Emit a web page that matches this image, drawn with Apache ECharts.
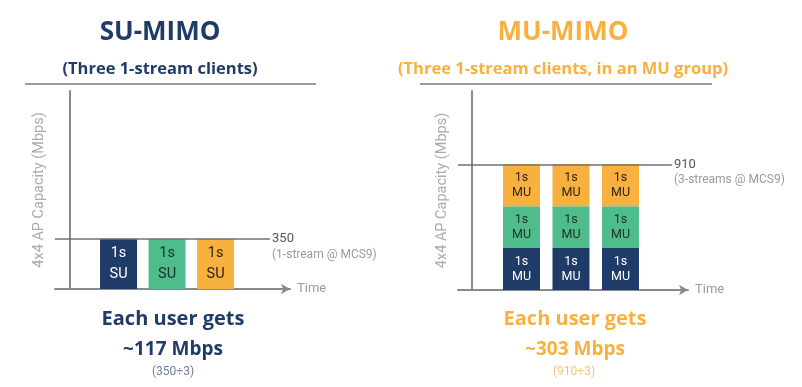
<!DOCTYPE html>
<html><head><meta charset="utf-8">
<script src="https://cdn.jsdelivr.net/npm/echarts@6/dist/echarts.min.js"></script>
<style>html,body{margin:0;padding:0;background:#fff}#c{width:802px;height:387px}</style>
</head><body><div id="c"></div>
<script>
// ---- data ----
const timeSlots = [1, 2, 3];
const suLabels = ['1s\nSU', '1s\nSU', '1s\nSU'];
const suValues = [350, 350, 350];
const suCapacity = 350;
const muStream1 = [303.3, 303.3, 303.3];
const muStream2 = [303.3, 303.3, 303.3];
const muStream3 = [303.3, 303.3, 303.3];
const muCapacity = 910;
const users = 3;
const suTitle = 'SU-MIMO', suSub = '(Three 1-stream clients)', suNote = '(1-stream @ MCS9)';
const muTitle = 'MU-MIMO', muSub = '(Three 1-stream clients, in an MU group)', muNote = '(3-streams @ MCS9)';
const yName = '4x4 AP Capacity (Mbps)';
const xName = 'Time';

const NAVY = '#1f3b68', GREEN = '#4fbc8c', ORANGE = '#f8b13f';
const suColors = [NAVY, GREEN, ORANGE];
const suTextColors = ['#ffffff', '#1e2e2a', '#2a2518'];
const FONT = 'Roboto';
const BOLD = 'Open Sans';

const chart = echarts.init(document.getElementById('c'), null, {renderer: 'canvas'});

function yAxis(gi, max) {
  return {
    type: 'value', gridIndex: gi, min: 0, max: max,
    axisLine: {show: true, lineStyle: {color: '#8a8a8a', width: 2}},
    axisTick: {show: false}, axisLabel: {show: false}, splitLine: {show: false},
    name: yName, nameLocation: 'middle', nameGap: 8, nameRotate: 90,
    nameTextStyle: {color: '#ababab', fontSize: 14.5, fontFamily: FONT}
  };
}
function xAxis(gi, min, max) {
  return {
    type: 'value', gridIndex: gi, min: min, max: max,
    axisLine: {show: true, symbol: ['none', 'arrow'], symbolSize: [8, 9], lineStyle: {color: '#8a8a8a', width: 2}},
    axisTick: {show: false}, axisLabel: {show: false}, splitLine: {show: false},
    name: xName, nameLocation: 'end', nameGap: 7,
    nameTextStyle: {color: '#9a9a9a', fontSize: 13, fontFamily: FONT, verticalAlign: 'middle', padding: [4, 0, 0, 0]}
  };
}
function capLine(xMin, xEnd, cap, note) {
  return {
    silent: true, symbol: ['none', 'none'],
    lineStyle: {color: '#707070', width: 1.5, type: 'solid'},
    label: {
      show: true, position: 'end', distance: 2,
      padding: [16, 0, 0, 0],
      formatter: () => '{a|' + cap + '}\n{b|' + note + '}',
      rich: {
        a: {color: '#555', fontSize: 13, fontFamily: FONT, lineHeight: 16},
        b: {color: '#9a9a9a', fontSize: 12, fontFamily: FONT, lineHeight: 16}
      }
    },
    data: [[{coord: [xMin, cap]}, {coord: [xEnd, cap]}]]
  };
}

const L_MIN = -0.31, L_MAX = 4.535, R_MIN = -0.283, R_MAX = 4.364;

const suData = timeSlots.map((t, i) => ({
  value: [suValues[i], t],
  itemStyle: {color: suColors[i]},
  label: {color: suTextColors[i], formatter: suLabels[i]}
}));

function muSeries(vals, color, tcolor, withLine) {
  const s = {
    type: 'bar', xAxisIndex: 1, yAxisIndex: 1, stack: 'mu', barWidth: 37,
    encode: {x: 1, y: 0},
    itemStyle: {color: color},
    label: {show: true, position: 'inside', formatter: '1s\nMU', color: tcolor, fontSize: 12.5, lineHeight: 15, fontFamily: FONT},
    data: timeSlots.map((t, i) => [vals[i], t])
  };
  if (withLine) s.markLine = capLine(R_MIN, 4.04, muCapacity, muNote);
  return s;
}

const perSU = Math.round(suCapacity / users), perMU = Math.round(muCapacity / users);

function ctext(cx, cy, text, size, color, weight, family) {
  return {type: 'text', x: cx, y: cy, style: {text: text, fill: color, fontSize: size, fontWeight: weight || 'normal', fontFamily: family || FONT, align: 'center', verticalAlign: 'middle'}};
}

const option = {
  backgroundColor: '#ffffff',
  animation: false,
  grid: [
    {left: 55, top: 91, width: 235, height: 198},
    {left: 458, top: 91, width: 230, height: 199}
  ],
  xAxis: [xAxis(0, L_MIN, L_MAX), xAxis(1, R_MIN, R_MAX)],
  yAxis: [yAxis(0, 1386), yAxis(1, 1441)],
  series: [
    {
      type: 'bar', xAxisIndex: 0, yAxisIndex: 0, barWidth: 37,
      encode: {x: 1, y: 0},
      label: {show: true, position: 'inside', fontSize: 14.5, lineHeight: 21, fontFamily: FONT},
      data: suData,
      markLine: capLine(L_MIN, 4.123, suCapacity, suNote)
    },
    muSeries(muStream1, NAVY, '#ffffff', false),
    muSeries(muStream2, GREEN, '#1e2e2a', false),
    muSeries(muStream3, ORANGE, '#2a2518', true)
  ],
  graphic: [
    ctext(160, 33, suTitle, 26, NAVY, 'bold', BOLD),
    ctext(160, 69, suSub, 16.5, NAVY, 'bold', BOLD),
    ctext(563, 33, muTitle, 26, ORANGE, 'bold', BOLD),
    ctext(563, 69, muSub, 16.5, ORANGE, 'bold', BOLD),
    {type: 'line', shape: {x1: 25, y1: 84, x2: 316, y2: 84}, style: {stroke: '#7a7a7a', lineWidth: 1.5}},
    {type: 'line', shape: {x1: 420, y1: 84, x2: 712, y2: 84}, style: {stroke: '#7a7a7a', lineWidth: 1.5}},
    ctext(173, 319, 'Each user gets', 20, NAVY, 'bold', BOLD),
    ctext(173, 350, '~' + perSU + ' Mbps', 19, NAVY, 'bold', BOLD),
    ctext(173, 372, '(' + suCapacity + '\u00f7' + users + ')', 12, '#6f7f9c', 'normal', FONT),
    ctext(575, 319, 'Each user gets', 20, ORANGE, 'bold', BOLD),
    ctext(575, 350, '~' + perMU + ' Mbps', 19, ORANGE, 'bold', BOLD),
    ctext(574, 372, '(' + muCapacity + '\u00f7' + users + ')', 12, '#f5c27a', 'normal', FONT)
  ]
};
chart.setOption(option);
</script>
</body></html>
